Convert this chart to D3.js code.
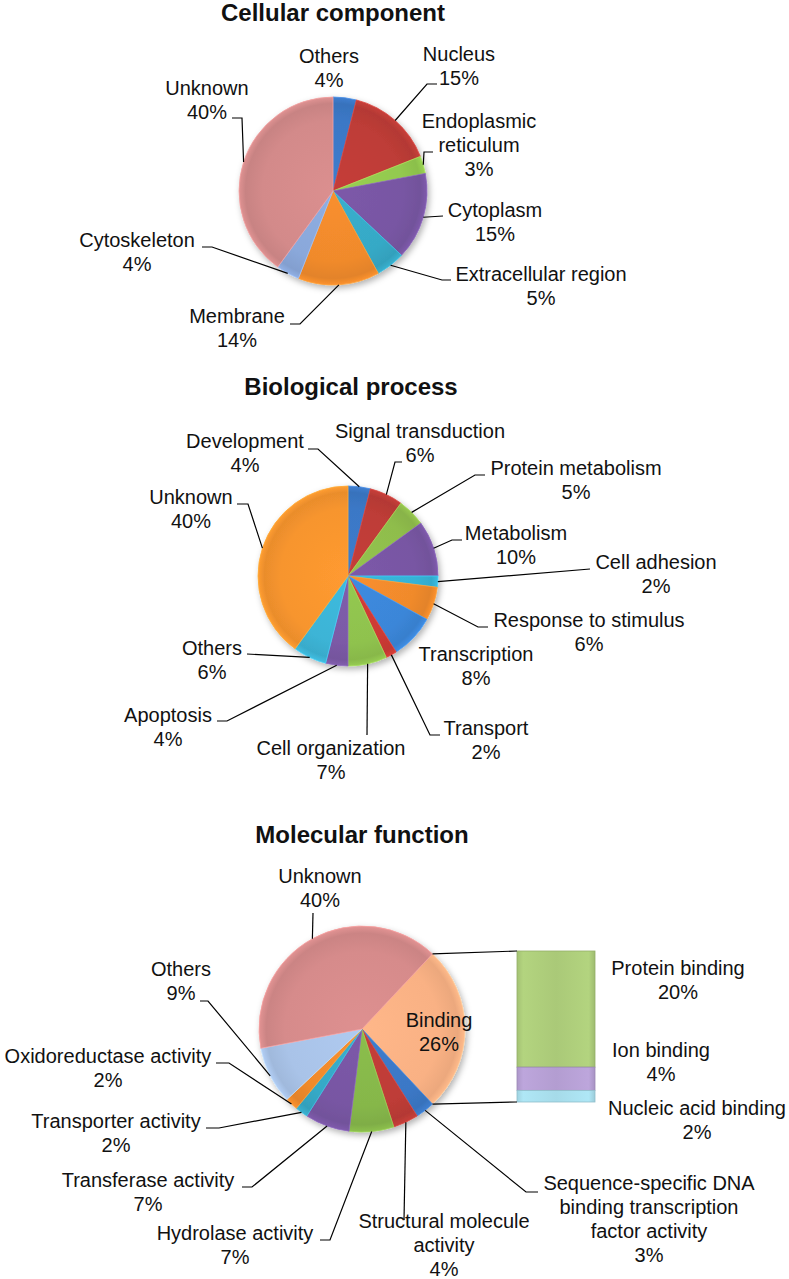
<!DOCTYPE html>
<html>
<head>
<meta charset="utf-8">
<script src="https://cdn.jsdelivr.net/npm/d3@7"></script>
<style>
  body { margin: 0; background: #fff; }
  svg { display: block; }
  text { font-family: "Liberation Sans", Arial, sans-serif; fill: #111; }
</style>
</head>
<body>
<svg id="chart" width="789" height="1279"></svg>
<script>
// Cellular component
const ccCategories = ['Others', 'Nucleus', 'Endoplasmic\nreticulum', 'Cytoplasm',
    'Extracellular region', 'Membrane', 'Cytoskeleton', 'Unknown'];
const ccValues = [4, 15, 3, 15, 5, 14, 4, 40];

// Biological process
const bpCategories = ['Development', 'Signal transduction', 'Protein metabolism', 'Metabolism',
    'Cell adhesion', 'Response to stimulus', 'Transcription', 'Transport',
    'Cell organization', 'Apoptosis', 'Others', 'Unknown'];
const bpValues = [4, 6, 5, 10, 2, 6, 8, 2, 7, 4, 6, 40];

// Molecular function (Binding is broken out into the bar)
const mfCategories = ['Binding', 'Sequence-specific DNA\nbinding transcription\nfactor activity',
    'Structural molecule\nactivity', 'Hydrolase activity', 'Transferase activity',
    'Transporter activity', 'Oxidoreductase activity', 'Others', 'Unknown'];
const mfValues = [26, 3, 4, 7, 7, 2, 2, 9, 40];
const bindingCategories = ['Protein binding', 'Ion binding', 'Nucleic acid binding'];
const bindingValues = [20, 4, 2];

// Colours
const ccColors = ['#3b78c6', '#be3c37', '#93c94f', '#7856a3', '#36a9c6', '#f08a2c', '#8aa8da', '#d38a8a'];
const bpColors = ['#3b78c6', '#be3c37', '#8fbd4c', '#7856a3', '#36b3d6', '#f08a2c',
    '#3b86d8', '#cc3a35', '#8fc24e', '#7b5aa6', '#3cb4d6', '#f7952e'];
const mfColors = ['#f9b184', '#3b78c6', '#be3c37', '#86b74a', '#7856a3', '#36a9c6', '#f08a2c', '#a9c3e8', '#d68b8b'];
const barColors = ['#aac978', '#b39dd1', '#a6dbe9'];

// Label layout (label centre x, first baseline y, leader elbow points)
const ccLabels = [
    {x: 329, y: 63},
    {x: 459, y: 61, pts: [[437, 84], [427, 84]]},
    {x: 479, y: 128, pts: [[433, 152], [424, 152]]},
    {x: 495, y: 217, pts: [[443, 216]]},
    {x: 541, y: 281, pts: [[451, 280], [442, 280]]},
    {x: 237, y: 323, pts: [[290, 324], [300, 324]]},
    {x: 137, y: 247, pts: [[202, 247], [212, 247]]},
    {x: 207, y: 95, pts: [[232, 118], [242, 118]]}
];
const bpLabels = [
    {x: 245, y: 448, pts: [[308, 449], [318, 449]]},
    {x: 420, y: 438, pts: [[402, 462], [395, 462]]},
    {x: 576, y: 475, pts: [[485, 475], [475, 475]]},
    {x: 516, y: 540, pts: [[462, 540], [452, 540]]},
    {x: 656, y: 569, pts: [[590, 569]]},
    {x: 589, y: 627, pts: [[488, 627], [478, 627]]},
    {x: 476, y: 661},
    {x: 486, y: 735, pts: [[440, 735], [430, 735]]},
    {x: 331, y: 755, pts: [[367, 735]]},
    {x: 168, y: 722, pts: [[217, 721], [227, 721]]},
    {x: 212, y: 655, pts: [[247, 654]]},
    {x: 191, y: 504, pts: [[237, 504], [248, 504]]}
];
const mfLabels = [
    {x: 439, y: 1027},
    {x: 649, y: 1190, pts: [[538, 1192], [526, 1192]]},
    {x: 444, y: 1228, pts: [[404, 1220]]},
    {x: 235, y: 1240, pts: [[320, 1240], [330, 1240]]},
    {x: 148, y: 1187, pts: [[242, 1187], [252, 1187]]},
    {x: 116, y: 1128, pts: [[206, 1128], [219, 1128]]},
    {x: 108, y: 1063, pts: [[216, 1063], [229, 1063]]},
    {x: 181, y: 976, pts: [[200, 1001], [208, 1001]]},
    {x: 320, y: 883, pts: [[313, 913]]}
];
const barLabels = [{x: 678, y: 975}, {x: 661, y: 1057}, {x: 697, y: 1115}];

const fontSize = 20;
const lineH = 24;

const svg = d3.select('#chart');
const defs = svg.append('defs');

// soft shadow under the pies
const shadow = defs.append('filter').attr('id', 'shadow')
    .attr('x', '-20%').attr('y', '-20%').attr('width', '140%').attr('height', '140%');
shadow.append('feDropShadow')
    .attr('dx', 2).attr('dy', 3).attr('stdDeviation', 3)
    .attr('flood-color', '#000').attr('flood-opacity', 0.3);

let gradId = 0;

function sliceGradient(color, r) {
    const id = 'g' + (gradId++);
    const c = d3.color(color);
    const grad = defs.append('radialGradient')
        .attr('id', id)
        .attr('gradientUnits', 'userSpaceOnUse')
        .attr('cx', 0).attr('cy', 0).attr('r', r);
    grad.append('stop').attr('offset', '0%').attr('stop-color', c.brighter(0.1));
    grad.append('stop').attr('offset', '75%').attr('stop-color', c);
    grad.append('stop').attr('offset', '93%').attr('stop-color', c.darker(0.15));
    grad.append('stop').attr('offset', '100%').attr('stop-color', c.brighter(0.15));
    return 'url(#' + id + ')';
}

function addText(x, y, lines, opts = {}) {
    const t = svg.append('text')
        .attr('x', x)
        .attr('y', y)
        .attr('text-anchor', 'middle')
        .style('font-size', (opts.size || fontSize) + 'px')
        .style('font-weight', opts.bold ? 'bold' : 'normal');
    lines.forEach((line, i) => {
        t.append('tspan').attr('x', x).attr('y', y + i * lineH).text(line);
    });
}

function drawPie(cfg) {
    const pie = d3.pie().sort(null).value(d => d)
        .startAngle(cfg.start).endAngle(cfg.start + 2 * Math.PI);
    const arcs = pie(cfg.values);
    const arc = d3.arc().innerRadius(0).outerRadius(cfg.r);

    const g = svg.append('g')
        .attr('transform', `translate(${cfg.cx},${cfg.cy})`);
    const slices = g.append('g').attr('filter', 'url(#shadow)');
    slices.selectAll('path')
        .data(arcs)
        .enter().append('path')
        .attr('d', arc)
        .attr('fill', (d, i) => sliceGradient(cfg.colors[i], cfg.r))
        .attr('stroke', (d, i) => d3.color(cfg.colors[i]).brighter(0.4))
        .attr('stroke-width', 0.8);

    // leader lines and labels
    arcs.forEach((d, i) => {
        const lab = cfg.labels[i];
        const mid = (d.startAngle + d.endAngle) / 2;
        const anchor = [cfg.cx + cfg.r * Math.sin(mid), cfg.cy - cfg.r * Math.cos(mid)];
        if (lab.pts) {
            svg.append('path')
                .attr('d', d3.line()([...lab.pts, anchor]))
                .attr('fill', 'none')
                .attr('stroke', '#000')
                .attr('stroke-width', 1.2);
        }
        const lines = cfg.categories[i].split('\n').concat([cfg.values[i] + '%']);
        addText(lab.x, lab.y, lines);
    });
    return arcs;
}

// titles
addText(333, 21, ['Cellular component'], {bold: true, size: 24});
addText(351, 395, ['Biological process'], {bold: true, size: 24});
addText(362, 843, ['Molecular function'], {bold: true, size: 24});

drawPie({cx: 333, cy: 191, r: 94, start: 0, values: ccValues, categories: ccCategories,
    colors: ccColors, labels: ccLabels});
drawPie({cx: 348, cy: 576, r: 90, start: 0, values: bpValues, categories: bpCategories,
    colors: bpColors, labels: bpLabels});

// Molecular function: Binding slice centred on 3 o'clock
const mfStart = Math.PI / 2 - Math.PI * mfValues[0] / 100;
const mfCx = 362, mfCy = 1029, mfR = 103;
const mfArcs = drawPie({cx: mfCx, cy: mfCy, r: mfR, start: mfStart, values: mfValues,
    categories: mfCategories, colors: mfColors, labels: mfLabels});

// bar of pie for Binding
const barX0 = 517, barX1 = 595;
const barY = d3.scaleLinear()
    .domain([0, d3.sum(bindingValues)])
    .range([951, 1102]);
const stacked = [];
let acc = 0;
bindingValues.forEach((v, i) => {
    stacked.push({y0: acc, y1: acc + v, color: barColors[i]});
    acc += v;
});

stacked.forEach((s, i) => {
    const id = 'bar' + i;
    const c = d3.color(s.color);
    const lg = defs.append('linearGradient').attr('id', id)
        .attr('x1', 0).attr('x2', 1).attr('y1', 0).attr('y2', 0);
    lg.append('stop').attr('offset', '0%').attr('stop-color', c.darker(0.1));
    lg.append('stop').attr('offset', '8%').attr('stop-color', c.brighter(0.15));
    lg.append('stop').attr('offset', '50%').attr('stop-color', c);
    lg.append('stop').attr('offset', '92%').attr('stop-color', c.brighter(0.15));
    lg.append('stop').attr('offset', '100%').attr('stop-color', c.darker(0.2));
    svg.append('rect')
        .attr('x', barX0)
        .attr('y', barY(s.y0))
        .attr('width', barX1 - barX0)
        .attr('height', barY(s.y1) - barY(s.y0))
        .attr('fill', `url(#${id})`)
        .attr('stroke', c.darker(0.4))
        .attr('stroke-width', 0.8);
    addText(barLabels[i].x, barLabels[i].y, [bindingCategories[i], bindingValues[i] + '%']);
});

// connector lines from Binding slice to bar
const bind = mfArcs[0];
[[bind.startAngle, barY(0)], [bind.endAngle, barY(d3.sum(bindingValues))]].forEach(([a, y]) => {
    svg.append('line')
        .attr('x1', mfCx + mfR * Math.sin(a))
        .attr('y1', mfCy - mfR * Math.cos(a))
        .attr('x2', barX0)
        .attr('y2', y)
        .attr('stroke', '#000')
        .attr('stroke-width', 1.2);
});
</script>
</body>
</html>
